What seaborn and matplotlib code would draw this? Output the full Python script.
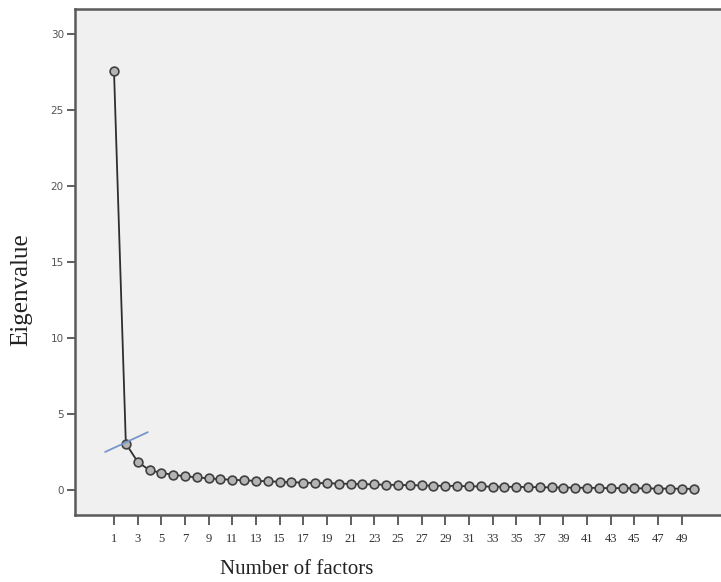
import matplotlib
matplotlib.use("Agg")
import matplotlib.pyplot as plt
import seaborn as sns
import pandas as pd

# Scree plot data: eigenvalue of each extracted factor
factors = list(range(1, 51))
eigenvalues = [
    27.55, 3.05, 1.85, 1.30, 1.12, 1.00, 0.90, 0.83, 0.76, 0.71,
    0.67, 0.63, 0.60, 0.57, 0.54, 0.51, 0.48, 0.46, 0.44, 0.42,
    0.40, 0.38, 0.36, 0.34, 0.33, 0.31, 0.30, 0.28, 0.27, 0.26,
    0.24, 0.23, 0.22, 0.21, 0.20, 0.19, 0.18, 0.17, 0.16, 0.15,
    0.14, 0.13, 0.12, 0.12, 0.11, 0.10, 0.09, 0.09, 0.08, 0.07,
]
x_ticks = list(range(1, 50, 2))
y_ticks = [0, 5, 10, 15, 20, 25, 30]

# Reference line marking the elbow of the curve
elbow_x = [0.25, 3.85]
elbow_y = [2.5, 3.8]

df = pd.DataFrame({"factor": factors, "eigenvalue": eigenvalues})

sns.set_style("white")
fig = plt.figure(figsize=(7.21, 5.82), dpi=100)
ax = fig.add_axes([0.104, 0.1151, 0.90, 0.8694])
ax.set_facecolor("#f0f0f0")

sns.lineplot(data=df, x="factor", y="eigenvalue", ax=ax, color="#2e2e2e",
             linewidth=1.3, marker="o", markersize=6.3,
             markerfacecolor="#b4b4b4", markeredgecolor="#404040",
             markeredgewidth=1.2, zorder=3)
ax.plot(elbow_x, elbow_y, color="#7896cc", linewidth=1.3, zorder=4)

ax.set_xlim(-2.3, 52.56)
ax.set_ylim(-1.65, 31.65)
ax.set_xticks(x_ticks)
ax.set_xticklabels([str(t) for t in x_ticks], family="Liberation Serif",
                   fontsize=9, color="#333333")
ax.set_yticks(y_ticks)
ax.set_yticklabels([str(t) for t in y_ticks], family="DejaVu Sans",
                   fontsize=7.5, color="#555555")
ax.tick_params(axis="x", direction="out", length=7, width=1.2,
               color="#444444", pad=6, bottom=True)
ax.tick_params(axis="y", direction="out", length=6, width=1.2,
               color="#444444", pad=2, left=True)

for side in ("left", "bottom", "top"):
    ax.spines[side].set_color("#5a5a5a")
    ax.spines[side].set_linewidth(1.8)
ax.spines["right"].set_visible(False)

ax.set_xlabel("")
ax.set_ylabel("")
fig.text(21 / 721, 1 - 290 / 582, "Eigenvalue", rotation=90,
         family="Liberation Serif", fontsize=18, color="#222222",
         ha="center", va="center")
fig.text(297 / 721, 1 - 569 / 582, "Number of factors",
         family="Liberation Serif", fontsize=15, color="#222222",
         ha="center", va="center")

fig.savefig("out.png", dpi=100, facecolor="white")
